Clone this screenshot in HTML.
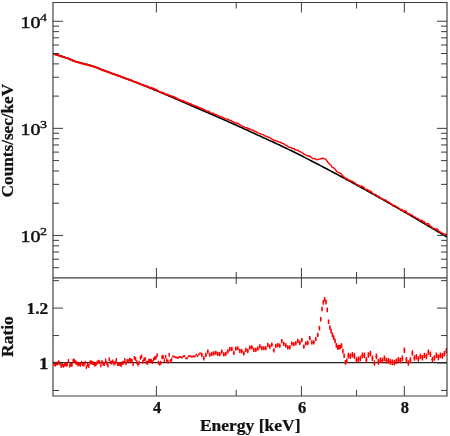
<!DOCTYPE html>
<html><head><meta charset="utf-8"><title>Spectrum and ratio</title>
<style>html,body{margin:0;padding:0;background:#fff}body{width:450px;height:436px;overflow:hidden;font-family:"Liberation Serif",serif}svg{display:block;will-change:transform}</style>
</head><body>
<svg width="450" height="436" viewBox="0 0 450 436">
<rect width="450" height="436" fill="#fff"/>
<defs><clipPath id="ct"><rect x="53.0" y="2.5" width="394.0" height="275.4"/></clipPath>
<clipPath id="cb"><rect x="53.0" y="277.9" width="394.0" height="118.05000000000001"/></clipPath></defs>
<g clip-path="url(#ct)">
<polyline fill="none" stroke="#000" stroke-width="1.6" stroke-linejoin="round" points="53,53.56 54,53.87 55,54.18 56,54.49 57,54.81 58,55.12 59,55.43 60,55.74 61,56.06 62,56.37 63,56.69 64,57.01 65,57.33 66,57.65 67,57.99 68,58.37 69,58.77 70,59.19 71,59.61 72,60.04 73,60.46 74,60.86 75,61.23 76,61.57 77,61.88 78,62.18 79,62.47 80,62.75 81,63.02 82,63.29 83,63.56 84,63.84 85,64.1 86,64.35 87,64.59 88,64.83 89,65.07 90,65.31 91,65.58 92,65.88 93,66.2 94,66.55 95,66.92 96,67.29 97,67.68 98,68.07 99,68.46 100,68.86 101,69.25 102,69.64 103,70.02 104,70.4 105,70.78 106,71.16 107,71.54 108,71.92 109,72.3 110,72.67 111,73.05 112,73.42 113,73.79 114,74.16 115,74.53 116,74.89 117,75.26 118,75.63 119,76 120,76.37 121,76.74 122,77.11 123,77.48 124,77.86 125,78.23 126,78.6 127,78.98 128,79.35 129,79.73 130,80.11 131,80.49 132,80.87 133,81.25 134,81.63 135,82.02 136,82.4 137,82.79 138,83.18 139,83.58 140,83.97 141,84.37 142,84.76 143,85.16 144,85.56 145,85.96 146,86.37 147,86.77 148,87.18 149,87.59 150,87.99 151,88.4 152,88.81 153,89.23 154,89.64 155,90.05 156,90.47 157,90.88 158,91.3 159,91.71 160,92.13 161,92.55 162,92.96 163,93.38 164,93.8 165,94.22 166,94.64 167,95.06 168,95.48 169,95.91 170,96.34 171,96.76 172,97.19 173,97.62 174,98.06 175,98.49 176,98.92 177,99.36 178,99.79 179,100.23 180,100.66 181,101.1 182,101.54 183,101.98 184,102.41 185,102.85 186,103.29 187,103.73 188,104.17 189,104.61 190,105.04 191,105.48 192,105.92 193,106.35 194,106.79 195,107.22 196,107.66 197,108.09 198,108.52 199,108.95 200,109.38 201,109.81 202,110.24 203,110.67 204,111.1 205,111.53 206,111.95 207,112.38 208,112.81 209,113.24 210,113.67 211,114.1 212,114.54 213,114.97 214,115.4 215,115.83 216,116.27 217,116.7 218,117.13 219,117.57 220,118 221,118.44 222,118.88 223,119.32 224,119.75 225,120.19 226,120.63 227,121.08 228,121.52 229,121.96 230,122.41 231,122.85 232,123.3 233,123.75 234,124.2 235,124.65 236,125.1 237,125.55 238,126 239,126.45 240,126.91 241,127.36 242,127.82 243,128.27 244,128.73 245,129.18 246,129.64 247,130.1 248,130.56 249,131.02 250,131.48 251,131.94 252,132.4 253,132.86 254,133.32 255,133.78 256,134.24 257,134.7 258,135.17 259,135.63 260,136.09 261,136.55 262,137.01 263,137.47 264,137.92 265,138.38 266,138.84 267,139.29 268,139.75 269,140.2 270,140.66 271,141.11 272,141.57 273,142.03 274,142.5 275,142.96 276,143.43 277,143.89 278,144.37 279,144.84 280,145.31 281,145.79 282,146.26 283,146.74 284,147.22 285,147.69 286,148.17 287,148.65 288,149.13 289,149.61 290,150.1 291,150.58 292,151.07 293,151.56 294,152.05 295,152.55 296,153.04 297,153.54 298,154.04 299,154.55 300,155.05 301,155.56 302,156.07 303,156.58 304,157.09 305,157.6 306,158.11 307,158.62 308,159.14 309,159.65 310,160.17 311,160.68 312,161.2 313,161.72 314,162.23 315,162.75 316,163.27 317,163.79 318,164.31 319,164.83 320,165.36 321,165.88 322,166.4 323,166.93 324,167.45 325,167.98 326,168.5 327,169.03 328,169.56 329,170.09 330,170.62 331,171.15 332,171.68 333,172.21 334,172.74 335,173.28 336,173.81 337,174.34 338,174.88 339,175.42 340,175.95 341,176.49 342,177.03 343,177.57 344,178.11 345,178.65 346,179.19 347,179.73 348,180.27 349,180.81 350,181.36 351,181.9 352,182.45 353,182.99 354,183.54 355,184.08 356,184.63 357,185.18 358,185.73 359,186.28 360,186.83 361,187.38 362,187.93 363,188.49 364,189.04 365,189.59 366,190.15 367,190.7 368,191.26 369,191.81 370,192.37 371,192.93 372,193.49 373,194.05 374,194.61 375,195.17 376,195.73 377,196.29 378,196.85 379,197.42 380,197.98 381,198.54 382,199.11 383,199.67 384,200.24 385,200.81 386,201.37 387,201.94 388,202.51 389,203.08 390,203.65 391,204.22 392,204.79 393,205.36 394,205.94 395,206.51 396,207.08 397,207.66 398,208.23 399,208.81 400,209.38 401,209.96 402,210.54 403,211.12 404,211.7 405,212.27 406,212.85 407,213.43 408,214.02 409,214.6 410,215.18 411,215.76 412,216.35 413,216.93 414,217.51 415,218.1 416,218.68 417,219.27 418,219.86 419,220.44 420,221.03 421,221.62 422,222.21 423,222.8 424,223.39 425,223.98 426,224.57 427,225.16 428,225.76 429,226.35 430,226.94 431,227.54 432,228.13 433,228.73 434,229.32 435,229.92 436,230.51 437,231.11 438,231.71 439,232.31 440,232.91 441,233.5 442,234.1 443,234.7 444,235.31 445,235.91 446,236.51 447,237.11"/>
<polyline fill="none" stroke="#f00" stroke-width="1.95" stroke-linejoin="round" stroke-linecap="round" points="53,53.97 54,54.03 55,54.4 56,54.76 57,54.92 58,55.33 59,55.64 60,55.74 61,56.39 62,56.66 63,56.83 64,57.2 65,57.6 66,57.83 67,58.17 68,58.4 69,59.05 70,59.42 71,59.86 72,60.06 73,60.87 74,61.08 75,61.39 76,62.03 77,62.08 78,62.2 79,62.62 80,62.66 81,63.35 82,63.43 83,63.65 84,64.16 85,64.07 86,64.6 87,64.5 88,64.91 89,65.07 90,65.67 91,65.97 92,65.98 93,66.46 94,66.67 95,67.13 96,67.33 97,67.58 98,67.95 99,68.63 100,69.27 101,69.39 102,69.67 103,70.38 104,70.52 105,70.88 106,71.27 107,71.59 108,71.93 109,72.15 110,72.79 111,73.07 112,73.61 113,73.75 114,73.89 115,74.51 116,75.13 117,75.19 118,75.48 119,75.79 120,76.18 121,76.65 122,76.88 123,77.64 124,77.74 125,78.16 126,78.73 127,79.1 128,79.21 129,79.66 130,80.1 131,80.32 132,80.45 133,81.2 134,81.61 135,81.91 136,82.08 137,82.57 138,82.88 139,83.31 140,83.95 141,84.37 142,84.61 143,84.98 144,85.39 145,85.66 146,86.03 147,86.31 148,86.79 149,87.55 150,87.68 151,87.83 152,88.13 153,88.37"/>
<polyline fill="none" stroke="#f00" stroke-width="1.7" stroke-linejoin="round" stroke-linecap="round" points="153,88.37 154,88.89 155,89.25 156,89.37 157,90.22 158,90.63 159,91.56 160,91.85 161,92.53 162,92.47 163,92.81 164,93.28 165,93.86 166,94.24 167,94.33 168,94.92 169,95.21 170,95.47 171,95.81 172,96.62 173,96.59 174,96.9 175,97.61 176,97.98 177,98.4 178,99.01 179,99.39 180,99.8 181,100.33 182,100.6 183,100.84 184,101.34 185,101.78 186,102.39 187,102.58 188,102.84 189,103.63 190,103.77 191,104.07 192,104.95 193,105.14 194,105.78 195,105.95 196,106.22 197,106.59 198,107.13 199,107.55 200,107.82 201,108.38 202,108.64 203,109.49"/>
<polyline fill="none" stroke="#f00" stroke-width="1.4" stroke-linejoin="round" stroke-linecap="round" points="203,109.49 204,109.54 205,110.19 206,110.62 207,110.99 208,111.53 209,111.32 210,112.32 211,112.87 212,113.22 213,113.19 214,113.88 215,114.62 216,114.33 217,115.22 218,115.81 219,115.84 220,116.57 221,116.61 222,117.07 223,117.51 224,118.2 225,118.55 226,119.1 227,118.92 228,119.38 229,119.97 230,120.29 231,120.33 232,121.36 233,121.68 234,122.41 235,122.76 236,123.24 237,123.28 238,123.23 239,123.89 240,124.98 241,125.28 242,126.13 243,126.43 244,126.69 245,127.65 246,127.64 247,127.73 248,129.1 249,128.35 250,129.24 251,129.66 252,129.95 253,130.05 254,131.33 255,131.22 256,131.67 257,132.29 258,132.92 259,133.15 260,133.71 261,133.86 262,134.41 263,134.59 264,135.24 265,135.93 266,136.12 267,136.75 268,136.87 269,137.29 270,137.91 271,138.32 272,139.07 273,139.57 274,140.59 275,140.52 276,140.88 277,140.96 278,141.57 279,142.1 280,142.04 281,142.61 282,143.25 283,143.51 284,143.94 285,144.94 286,145.26 287,145.92 288,146.7 289,147.19 290,147.2 291,147.57 292,148.24 293,148.53 294,148.42 295,149.77 296,149.76 297,150.34 298,150.17 299,151.44 300,151.43 301,152.19 302,152.42 303,153.45 304,154.03 305,154.56 306,155.18 307,155.42 308,156.05 309,155.97 310,156.27 311,157.13 312,157.89 313,158.6 314,158.89 315,158.4 316,159.37 317,159.89 318,159.47 319,159.15 320,159.13 321,158.48 322,158.5 323,158.1 324,158.69 325,158.88 326,159.34 327,161 328,162.51 329,163.38 330,164.67 331,165.11 332,167.2 333,167.62 334,168.02 335,169.08 336,170.56 337,171.78 338,172.21 339,173.01 340,173.01 341,173.55 342,175.16 343,176 344,176.87 345,178.3 346,178.2 347,178.84 348,179.71 349,180.41 350,180.23 351,181.35 352,181.02 353,181.92 354,182.4 355,182.59 356,183.96 357,184.81 358,184.97 359,185.56 360,186.6 361,185.99 362,186.25 363,187 364,187.37 365,189.06 366,189.36 367,189.46 368,189.97 369,191.71 370,190.82 371,191.42 372,192.68 373,193.66 374,194.2 375,194.28 376,194.67 377,195.96 378,196.35 379,196.32 380,198.03 381,198.42 382,198.53 383,199 384,199.71 385,199.9 386,200.26 387,201.59 388,201.5 389,202.92 390,202.82 391,204.04 392,204.65 393,206.05 394,205.38 395,205.74 396,206.56 397,206.83 398,207.55 399,208.5 400,209.19 401,210.05 402,209.36 403,211.13 404,211.28 405,211.04 406,211.06 407,213 408,213.86 409,213.34 410,214.74 411,214.86 412,214.89 413,216 414,216.83 415,216.87 416,217.87 417,218.09 418,218.63 419,219.59 420,220.33 421,220.37 422,220.16 423,222.02 424,221.53 425,222.86 426,224.14 427,223.76 428,223.66 429,224.08 430,226.05 431,226.34 432,227.46 433,228.38 434,228.49 435,228.87 436,229.08 437,228.62 438,229.99 439,231.29 440,231.79 441,232.58 442,232.83 443,233.47 444,234.24 445,233.85 446,234.57 447,234.38"/>
</g>
<line x1="53.0" y1="362.7" x2="447.0" y2="362.7" stroke="#222" stroke-width="1.3"/>
<g clip-path="url(#cb)">
<path fill="none" stroke="#f00" stroke-width="1.3" d="M54,361.61V365.41M55.2,363.07V366.87M56.4,361.67V365.47M57.6,361.5V365.3M58.8,360.33V364.13M60,361.69V365.49M61.2,364.21V368.01M62.4,362.91V366.71M63.6,364.07V367.87M64.8,362.57V366.37M66,362.85V366.65M67.2,362.45V366.25M68.4,358.93V362.73M69.6,363.72V367.52M70.8,363.06V366.86M72,363.04V366.84M73.2,358.87V362.67M74.4,358.76V362.56M75.6,360.37V364.17M76.8,361.15V364.95M78,362.61V366.41M79.2,361.92V365.72M80.4,362.97V366.77M81.6,360.74V364.54M82.8,362.53V366.33M84,362.67V366.47M85.2,360.64V364.44M86.4,365.14V368.94M87.6,362.91V366.71M88.8,364.1V367.9M90,360.61V364.41M91.2,360.36V364.16M92.4,361.08V364.88M93.6,361.5V365.3M94.8,362.86V366.66M96,362.1V365.9M97.2,360.74V364.54M98.4,359.73V363.53M99.6,360.52V364.32M100.8,363.79V367.59M102,359.9V363.7M103.2,361.85V365.65M104.4,362.15V365.95M105.6,358.46V362.26M106.8,361.33V365.13M108,363.66V367.46M109.2,357.3V361.1M110.4,360.46V364.26M111.6,360.81V364.61M112.8,359.4V363.2M114,361.84V365.64M115.2,360.72V364.52M116.4,358V361.8M117.6,362.29V366.09M118.8,361.93V365.73M120,362.4V366.2M121.2,363.28V367.08M122.4,361.17V364.97M123.6,360.65V364.45M124.8,357.9V361.7M126,361.49V365.29M127.2,359.1V362.9M128.4,359.34V363.14M129.6,357.74V361.54M130.8,358.24V362.04M132,359.01V362.81M133.2,362.4V366.2M134.4,356.02V359.82M135.6,357.04V360.84M136.8,360.19V363.99M138,362.39V366.19M139.2,360.66V364.46M140.4,355.86V359.66M141.6,354.59V358.39M142.8,359.96V363.76M144,357.77V361.57M145.2,356.92V360.72M146.4,360.77V364.57M147.6,360.83V364.63M148.8,358.84V362.64M150,358.77V362.57M151.2,358.67V362.47M152.4,360.2V364M153.6,357.49V361.29M154.8,356.22V360.02M156,355.74V359.54M157.2,353.29V357.09M158.4,360.71V364.51M159.6,361.66V365.46M160.8,360.84V364.64M162,355.35V359.15M163.2,354.94V358.74M164.4,358.56V362.36M165.6,354.66V358.46M166.8,358.45V362.25M168,359.82V363.62M169.2,352.83V356.63M170.4,359.16V362.96M171.6,357.6V361.4M172.85,355.52V357.32M174.15,355.67V357.47M175.45,356.45V358.25M176.75,356.47V358.27M178.05,357.09V358.89M179.35,356V357.8M180.65,356.15V357.95M181.95,356.67V358.47M183.25,355.46V357.26M184.55,355.07V356.87M185.85,357.44V359.24M187.15,357.35V359.15M188.45,355.56V357.36M189.75,354.97V356.77M191.05,355.72V357.52M192.35,355.71V357.51M193.65,355.37V357.17M194.95,355.69V357.49M196.25,353.87V355.67M197.55,355.2V357M198.85,353.6V355.4M200.15,352.32V354.12"/>
<path fill="none" stroke="#f00" stroke-width="1.0" d="M53.4,363.51H54.6M54.6,364.97H55.8M55.8,363.57H57M57,363.4H58.2M58.2,362.23H59.4M59.4,363.59H60.6M60.6,366.11H61.8M61.8,364.81H63M63,365.97H64.2M64.2,364.47H65.4M65.4,364.75H66.6M66.6,364.35H67.8M67.8,360.83H69M69,365.62H70.2M70.2,364.96H71.4M71.4,364.94H72.6M72.6,360.77H73.8M73.8,360.66H75M75,362.27H76.2M76.2,363.05H77.4M77.4,364.51H78.6M78.6,363.82H79.8M79.8,364.87H81M81,362.64H82.2M82.2,364.43H83.4M83.4,364.57H84.6M84.6,362.54H85.8M85.8,367.04H87M87,364.81H88.2M88.2,366H89.4M89.4,362.51H90.6M90.6,362.26H91.8M91.8,362.98H93M93,363.4H94.2M94.2,364.76H95.4M95.4,364H96.6M96.6,362.64H97.8M97.8,361.63H99M99,362.42H100.2M100.2,365.69H101.4M101.4,361.8H102.6M102.6,363.75H103.8M103.8,364.05H105M105,360.36H106.2M106.2,363.23H107.4M107.4,365.56H108.6M108.6,359.2H109.8M109.8,362.36H111M111,362.71H112.2M112.2,361.3H113.4M113.4,363.74H114.6M114.6,362.62H115.8M115.8,359.9H117M117,364.19H118.2M118.2,363.83H119.4M119.4,364.3H120.6M120.6,365.18H121.8M121.8,363.07H123M123,362.55H124.2M124.2,359.8H125.4M125.4,363.39H126.6M126.6,361H127.8M127.8,361.24H129M129,359.64H130.2M130.2,360.14H131.4M131.4,360.91H132.6M132.6,364.3H133.8M133.8,357.92H135M135,358.94H136.2M136.2,362.09H137.4M137.4,364.29H138.6M138.6,362.56H139.8M139.8,357.76H141M141,356.49H142.2M142.2,361.86H143.4M143.4,359.67H144.6M144.6,358.82H145.8M145.8,362.67H147M147,362.73H148.2M148.2,360.74H149.4M149.4,360.67H150.6M150.6,360.57H151.8M151.8,362.1H153M153,359.39H154.2M154.2,358.12H155.4M155.4,357.64H156.6M156.6,355.19H157.8M157.8,362.61H159M159,363.56H160.2M160.2,362.74H161.4M161.4,357.25H162.6M162.6,356.84H163.8M163.8,360.46H165M165,356.56H166.2M166.2,360.35H167.4M167.4,361.72H168.6M168.6,354.73H169.8M169.8,361.06H171M171,359.5H172.2M172.2,356.42H173.5M173.5,356.57H174.8M174.8,357.35H176.1M176.1,357.37H177.4M177.4,357.99H178.7M178.7,356.9H180M180,357.05H181.3M181.3,357.57H182.6M182.6,356.36H183.9M183.9,355.97H185.2M185.2,358.34H186.5M186.5,358.25H187.8M187.8,356.46H189.1M189.1,355.87H190.4M190.4,356.62H191.7M191.7,356.61H193M193,356.27H194.3M194.3,356.59H195.6M195.6,354.77H196.9M196.9,356.1H198.2M198.2,354.5H199.5M199.5,353.22H200.8"/>
<path fill="none" stroke="#f00" stroke-width="1.5" d="M201.8,352.75V356.95M203.8,356.25V360.45M205.8,352.75V356.95M207.8,349.58V353.78M209.8,352.66V356.86M211.8,351.83V356.03M213.8,351.37V355.57M215.8,350.64V354.84M217.8,351.87V356.07M219.8,352.08V356.28M221.8,349.58V353.78M223.8,352.31V356.51M225.8,351.7V355.9M227.8,349.25V353.45M229.8,347V351.2M231.8,346.82V351.02M233.8,350.69V354.89M235.8,346.59V350.79M237.8,346.14V350.34M239.8,348.69V352.89M241.8,349.08V353.28M243.8,351.29V355.49M245.8,347.86V352.06M247.8,348.71V352.91M249.8,345.54V349.74M251.8,345.24V349.44M253.8,347.7V351.9M255.8,347.84V352.04M257.8,346.49V350.69M259.8,344.19V348.39M261.8,345.96V350.16M263.8,346.16V350.36M265.8,346.16V350.36M267.8,342.87V347.07M269.8,344.47V348.67M271.8,342.55V346.75M273.8,348.18V352.38M275.8,343.72V347.92M277.8,343V347.2M279.8,343.61V347.81M281.8,338.96V343.16M283.8,341.72V345.92M285.8,343.36V347.56M287.8,345.23V349.43M289.8,345.32V349.52M291.8,341.47V345.67M293.8,342.01V346.21M295.8,341.1V345.3M297.8,338.71V342.91M299.8,340.75V344.95M301.8,338.08V342.28M303.8,344.6V348.8M305.8,341.36V345.56M307.8,340.8V345M309.8,336.07V340.27M311.8,340.34V344.54M313.8,340.3V344.5M315.8,336.88V341.08M317.8,332.85V337.05M319.45,325.79V330.39M320.75,316.97V321.57M322.05,306.63V311.23M323.35,300.09V304.69M324.65,296.94V301.54M325.95,299.86V304.46M327.25,307.59V312.19M328.55,319.5V324.1M329.85,325.21V329.81M331.15,328.87V333.47M332.45,332.55V337.15M333.75,335.37V339.97M335.05,338.76V343.36M336.35,343.05V347.65M337.65,345.21V349.81M338.95,344.84V349.44M340.25,344.69V349.29M341.55,343.34V347.94M342.85,348.85V353.45M344.15,353.42V358.02M345.45,360.11V364.71M346.75,358.61V363.21M348.4,352.87V358.47M350.4,353.42V359.02M352.4,351.95V357.55M354.4,353.04V358.64M356.4,357.23V362.83M358.4,356.6V362.2M360.4,355.68V361.28M362.4,352.61V358.21M364.4,352.38V357.98M366.4,357.1V362.7M368.4,352.13V357.73M370.4,350.63V356.23M372.4,355.43V361.03M374.4,360.13V365.73M376.4,353.56V359.16M378.4,359.1V364.7M380.4,357.38V362.98M382.4,357.64V363.24M384.4,355.38V360.98M386.4,357.87V363.47M388.4,357.97V363.57M390.4,359.07V364.67M392.4,359.55V365.15M394.4,359.79V365.39M396.4,358.42V364.02M398.4,356.91V362.51M400.4,357.75V363.35M402.4,355.57V361.17M404.4,347.49V353.09M406.4,357.09V362.69M408.4,360.13V365.73M410.4,357.3V362.9M412.4,350.27V355.87M414.4,355.13V360.73M416.4,354.02V359.62M418.4,356.15V361.75M420.4,353.4V359M422.4,355.02V360.62M424.4,352.74V358.34M426.4,353.62V359.22M428.4,349.46V355.06M430.4,351.48V357.08M432.4,356.69V362.29M434.4,355.25V360.85M436.4,352.4V358M438.4,354.59V360.19M440.4,352.55V358.15M442.4,353.1V358.7M444.4,350.92V356.52M446.4,348.04V353.64"/>
<path fill="none" stroke="#f00" stroke-width="1.1" d="M200.8,354.85H202.8M202.8,358.35H204.8M204.8,354.85H206.8M206.8,351.68H208.8M208.8,354.76H210.8M210.8,353.93H212.8M212.8,353.47H214.8M214.8,352.74H216.8M216.8,353.97H218.8M218.8,354.18H220.8M220.8,351.68H222.8M222.8,354.41H224.8M224.8,353.8H226.8M226.8,351.35H228.8M228.8,349.1H230.8M230.8,348.92H232.8M232.8,352.79H234.8M234.8,348.69H236.8M236.8,348.24H238.8M238.8,350.79H240.8M240.8,351.18H242.8M242.8,353.39H244.8M244.8,349.96H246.8M246.8,350.81H248.8M248.8,347.64H250.8M250.8,347.34H252.8M252.8,349.8H254.8M254.8,349.94H256.8M256.8,348.59H258.8M258.8,346.29H260.8M260.8,348.06H262.8M262.8,348.26H264.8M264.8,348.26H266.8M266.8,344.97H268.8M268.8,346.57H270.8M270.8,344.65H272.8M272.8,350.28H274.8M274.8,345.82H276.8M276.8,345.1H278.8M278.8,345.71H280.8M280.8,341.06H282.8M282.8,343.82H284.8M284.8,345.46H286.8M286.8,347.33H288.8M288.8,347.42H290.8M290.8,343.57H292.8M292.8,344.11H294.8M294.8,343.2H296.8M296.8,340.81H298.8M298.8,342.85H300.8M300.8,340.18H302.8M302.8,346.7H304.8M304.8,343.46H306.8M306.8,342.9H308.8M308.8,338.17H310.8M310.8,342.44H312.8M312.8,342.4H314.8M314.8,338.98H316.8M316.8,334.95H318.8M318.8,328.09H320.1M320.1,319.27H321.4M321.4,308.93H322.7M322.7,302.39H324M324,299.24H325.3M325.3,302.16H326.6M326.6,309.89H327.9M327.9,321.8H329.2M329.2,327.51H330.5M330.5,331.17H331.8M331.8,334.85H333.1M333.1,337.67H334.4M334.4,341.06H335.7M335.7,345.35H337M337,347.51H338.3M338.3,347.14H339.6M339.6,346.99H340.9M340.9,345.64H342.2M342.2,351.15H343.5M343.5,355.72H344.8M344.8,362.41H346.1M346.1,360.91H347.4M347.4,355.67H349.4M349.4,356.22H351.4M351.4,354.75H353.4M353.4,355.84H355.4M355.4,360.03H357.4M357.4,359.4H359.4M359.4,358.48H361.4M361.4,355.41H363.4M363.4,355.18H365.4M365.4,359.9H367.4M367.4,354.93H369.4M369.4,353.43H371.4M371.4,358.23H373.4M373.4,362.93H375.4M375.4,356.36H377.4M377.4,361.9H379.4M379.4,360.18H381.4M381.4,360.44H383.4M383.4,358.18H385.4M385.4,360.67H387.4M387.4,360.77H389.4M389.4,361.87H391.4M391.4,362.35H393.4M393.4,362.59H395.4M395.4,361.22H397.4M397.4,359.71H399.4M399.4,360.55H401.4M401.4,358.37H403.4M403.4,350.29H405.4M405.4,359.89H407.4M407.4,362.93H409.4M409.4,360.1H411.4M411.4,353.07H413.4M413.4,357.93H415.4M415.4,356.82H417.4M417.4,358.95H419.4M419.4,356.2H421.4M421.4,357.82H423.4M423.4,355.54H425.4M425.4,356.42H427.4M427.4,352.26H429.4M429.4,354.28H431.4M431.4,359.49H433.4M433.4,358.05H435.4M435.4,355.2H437.4M437.4,357.39H439.4M439.4,355.35H441.4M441.4,355.9H443.4M443.4,353.72H445.4M445.4,350.84H447.4"/>
</g>
<path fill="none" stroke="#303030" stroke-width="0.95" d="M156.4,2.5v10M156.4,267.9v20M156.4,395.95v-10M236.22,2.5v6M236.22,271.9v12M236.22,395.95v-6M301.43,2.5v10M301.43,267.9v20M301.43,395.95v-10M356.57,2.5v6M356.57,271.9v12M356.57,395.95v-6M404.33,2.5v10M404.33,267.9v20M404.33,395.95v-10M53,267.69h6M447,267.69h-6M53,259.21h6M447,259.21h-6M53,252.04h6M447,252.04h-6M53,245.83h6M447,245.83h-6M53,240.35h6M447,240.35h-6M53,235.45h10M447,235.45h-10M53,203.21h6M447,203.21h-6M53,184.35h6M447,184.35h-6M53,170.97h6M447,170.97h-6M53,160.59h6M447,160.59h-6M53,152.11h6M447,152.11h-6M53,144.94h6M447,144.94h-6M53,138.73h6M447,138.73h-6M53,133.25h6M447,133.25h-6M53,128.35h10M447,128.35h-10M53,96.11h6M447,96.11h-6M53,77.25h6M447,77.25h-6M53,63.87h6M447,63.87h-6M53,53.49h6M447,53.49h-6M53,45.01h6M447,45.01h-6M53,37.84h6M447,37.84h-6M53,31.63h6M447,31.63h-6M53,26.15h6M447,26.15h-6M53,21.25h10M447,21.25h-10M53,280.65h6M447,280.65h-6M53,308.1h10M447,308.1h-10M53,335.55h6M447,335.55h-6M53,363h10M447,363h-10M53,390.45h6M447,390.45h-6"/>
<path fill="none" stroke="#3c3c3c" stroke-width="1.15" d="M53.0,2.5H447.0V395.95H53.0ZM53.0,277.9H447.0"/>
<text transform="translate(20.6,242.35) scale(1.1368,1)" font-family="Liberation Serif, serif" font-size="17.6" fill="#111" stroke="#111" stroke-width="0.5">10</text>
<text transform="translate(40.1,235.35) scale(1.2389,1)" font-family="Liberation Serif, serif" font-size="11.3" fill="#111" stroke="#111" stroke-width="0.35">2</text>
<text transform="translate(20.6,135.25) scale(1.1368,1)" font-family="Liberation Serif, serif" font-size="17.6" fill="#111" stroke="#111" stroke-width="0.5">10</text>
<text transform="translate(40.1,128.25) scale(1.2389,1)" font-family="Liberation Serif, serif" font-size="11.3" fill="#111" stroke="#111" stroke-width="0.35">3</text>
<text transform="translate(20.6,28.15) scale(1.1368,1)" font-family="Liberation Serif, serif" font-size="17.6" fill="#111" stroke="#111" stroke-width="0.5">10</text>
<text transform="translate(40.1,21.15) scale(1.2389,1)" font-family="Liberation Serif, serif" font-size="11.3" fill="#111" stroke="#111" stroke-width="0.35">4</text>
<text transform="translate(26.6,313.7) scale(1.0212,1)" font-family="Liberation Serif, serif" font-weight="bold" font-size="17" fill="#111" stroke="#111" stroke-width="0.25">1.2</text>
<text transform="translate(38.9,368.6) scale(1.1176,1)" font-family="Liberation Serif, serif" font-weight="bold" font-size="17" fill="#111" stroke="#111" stroke-width="0.25">1</text>
<text transform="translate(157,413.2)" font-family="Liberation Serif, serif" font-weight="bold" font-size="16.5" fill="#111" stroke="#111" stroke-width="0.25" text-anchor="middle">4</text>
<text transform="translate(302.03,413.2)" font-family="Liberation Serif, serif" font-weight="bold" font-size="16.5" fill="#111" stroke="#111" stroke-width="0.25" text-anchor="middle">6</text>
<text transform="translate(404.93,413.2)" font-family="Liberation Serif, serif" font-weight="bold" font-size="16.5" fill="#111" stroke="#111" stroke-width="0.25" text-anchor="middle">8</text>
<text transform="translate(199.9,431.4) scale(1.0293,1)" font-family="Liberation Serif, serif" font-weight="bold" font-size="17" fill="#111" stroke="#111" stroke-width="0.25">Energy [keV]</text>
<text transform="translate(13.3,197.3) rotate(-90) scale(0.9698,1)" font-family="Liberation Serif, serif" font-weight="bold" font-size="17.7" fill="#111" stroke="#111" stroke-width="0.25">Counts/sec/keV</text>
<text transform="translate(13.3,356.9) rotate(-90) scale(0.9879,1)" font-family="Liberation Serif, serif" font-weight="bold" font-size="17.7" fill="#111" stroke="#111" stroke-width="0.25">Ratio</text>
</svg>
</body></html>
